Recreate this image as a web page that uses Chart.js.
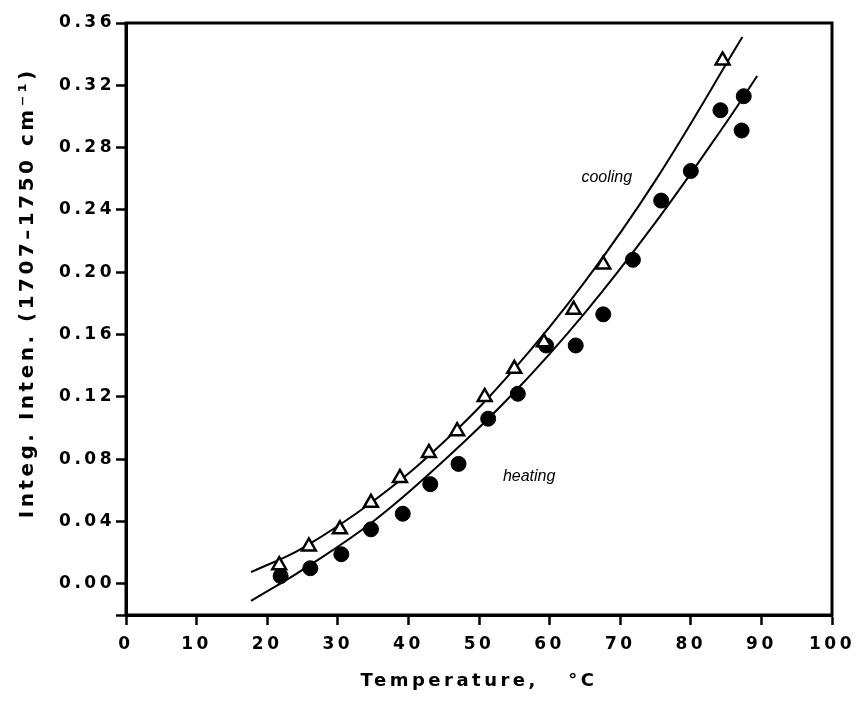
<!DOCTYPE html>
<html>
<head>
<meta charset="utf-8">
<script src="https://cdn.jsdelivr.net/npm/chart.js@4.4.1/dist/chart.umd.min.js"></script>
<style>
    html, body { margin: 0; padding: 0; background: #fff; }
    #wrap { width: 864px; height: 708px; }
</style>
</head>
<body>
<div id="wrap"><canvas id="chart" width="864" height="708"></canvas></div>
<script>
const coolingTemp = [21.7, 25.9, 30.3, 34.7, 38.8, 42.9, 46.9, 50.8, 55.0, 59.2, 63.4, 67.6, 84.5];
const coolingInt  = [0.012, 0.024, 0.035, 0.052, 0.068, 0.084, 0.098, 0.120, 0.138, 0.155, 0.176, 0.205, 0.336];

const heatingTemp = [21.9, 26.1, 30.5, 34.7, 39.2, 43.1, 47.1, 51.3, 55.5, 59.5, 63.7, 67.6, 71.8, 75.8, 80.0, 84.2, 87.2, 87.5];
const heatingInt  = [0.005, 0.010, 0.019, 0.035, 0.045, 0.064, 0.077, 0.106, 0.122, 0.153, 0.153, 0.173, 0.208, 0.246, 0.265, 0.304, 0.291, 0.313];

// Fitted curves, points
const coolingFitTemp = [17.7, 25, 35, 45, 55, 65, 75, 87.3];
const coolingFitInt  = [0.0075, 0.023, 0.053, 0.091, 0.138, 0.194, 0.259, 0.351];
const heatingFitTemp = [17.7, 25, 35, 45, 55, 65, 75, 85, 89.4];
const heatingFitInt  = [-0.011, 0.009, 0.040, 0.079, 0.123, 0.174, 0.232, 0.296, 0.326];

// Axis ticks
const xTicks = [0, 10, 20, 30, 40, 50, 60, 70, 80, 90, 100];
const yTicks = [-0.02, 0.00, 0.04, 0.08, 0.12, 0.16, 0.20, 0.24, 0.28, 0.32, 0.36];

// Curve labels
const curveLabels = [
    { text: 'cooling', x: 68.1, y: 0.261 },
    { text: 'heating', x: 57.1, y: 0.069 }
];

const toPoints = (xs, ys) => xs.map((x, i) => ({ x: x, y: ys[i] }));

const axisFont = { family: '"DejaVu Sans", sans-serif', size: 17, weight: 'bold' };
const xTitleFont = { family: '"DejaVu Sans", sans-serif', size: 18, weight: 'bold' };
const yTitleFont = { family: '"DejaVu Sans", sans-serif', size: 20, weight: 'bold' };

// spaced-out lettering like the original typesetting
const letterSpacingPlugin = {
    id: 'letterSpacing',
    beforeUpdate(chart) { chart.ctx.letterSpacing = '3.5px'; },
    beforeDraw(chart) { chart.ctx.letterSpacing = '3.5px'; }
};

// box frame + italic curve labels
const framePlugin = {
    id: 'frame',
    afterDraw(chart) {
        const { ctx, chartArea, scales } = chart;
        ctx.save();
        ctx.letterSpacing = '0px';
        ctx.strokeStyle = '#000';
        ctx.lineWidth = 3;
        ctx.strokeRect(chartArea.left, chartArea.top, chartArea.right - chartArea.left, chartArea.bottom - chartArea.top);

        ctx.fillStyle = '#000';
        ctx.font = 'italic 16px "Liberation Sans", Arial, sans-serif';
        ctx.textAlign = 'center';
        ctx.textBaseline = 'middle';
        curveLabels.forEach(l => {
            ctx.fillText(l.text, scales.x.getPixelForValue(l.x), scales.y.getPixelForValue(l.y));
        });
        ctx.restore();
    }
};

document.addEventListener('DOMContentLoaded', () => {
    new Chart(document.getElementById('chart'), {
        type: 'scatter',
        data: {
            datasets: [
                {
                    label: 'cooling fit',
                    data: toPoints(coolingFitTemp, coolingFitInt),
                    showLine: true,
                    borderColor: '#000',
                    borderWidth: 2,
                    pointRadius: 0,
                    tension: 0.4,
                    order: 3
                },
                {
                    label: 'heating fit',
                    data: toPoints(heatingFitTemp, heatingFitInt),
                    showLine: true,
                    borderColor: '#000',
                    borderWidth: 2,
                    pointRadius: 0,
                    tension: 0.4,
                    order: 4
                },
                {
                    label: 'heating',
                    data: toPoints(heatingTemp, heatingInt),
                    pointStyle: 'circle',
                    pointRadius: 7.5,
                    backgroundColor: '#000',
                    borderColor: '#000',
                    borderWidth: 1,
                    order: 2
                },
                {
                    label: 'cooling',
                    data: toPoints(coolingTemp, coolingInt),
                    pointStyle: 'triangle',
                    pointRadius: 8,
                    backgroundColor: '#fff',
                    borderColor: '#000',
                    borderWidth: 2.5,
                    order: 1
                }
            ]
        },
        options: {
            responsive: false,
            animation: false,
            layout: { padding: { top: 23, right: 23, left: 0, bottom: 0 } },
            plugins: {
                legend: { display: false },
                tooltip: { enabled: false }
            },
            scales: {
                x: {
                    type: 'linear',
                    min: 0,
                    max: 100,
                    afterBuildTicks: s => { s.ticks = xTicks.map(v => ({ value: v })); },
                    afterFit: s => { s.height = 93; },
                    border: { display: true, color: '#000', width: 3 },
                    grid: { drawOnChartArea: false, drawTicks: true, tickLength: 10, tickWidth: 2.5, tickColor: '#000' },
                    ticks: {
                        color: '#000',
                        font: axisFont,
                        padding: 9,
                        maxRotation: 0,
                        autoSkip: false,
                        callback: v => String(v)
                    },
                    title: {
                        display: true,
                        text: 'Temperature,   °C',
                        color: '#000',
                        font: xTitleFont,
                        padding: { top: 0, bottom: 16 }
                    }
                },
                y: {
                    type: 'linear',
                    min: -0.02,
                    max: 0.36,
                    afterBuildTicks: s => { s.ticks = yTicks.map(v => ({ value: v })); },
                    afterFit: s => { s.width = 126; },
                    border: { display: true, color: '#000', width: 3 },
                    grid: { drawOnChartArea: false, drawTicks: true, tickLength: 10, tickWidth: 2.5, tickColor: '#000' },
                    ticks: {
                        color: '#000',
                        font: axisFont,
                        padding: 1,
                        autoSkip: false,
                        callback: v => (v < -0.001 ? '' : v.toFixed(2))
                    },
                    title: {
                        display: true,
                        text: '     Integ. Inten. (1707–1750 cm⁻¹)',
                        color: '#000',
                        font: yTitleFont,
                        padding: { top: 16, bottom: 0 }
                    }
                }
            }
        },
        plugins: [letterSpacingPlugin, framePlugin]
    });
});
</script>
</body>
</html>
